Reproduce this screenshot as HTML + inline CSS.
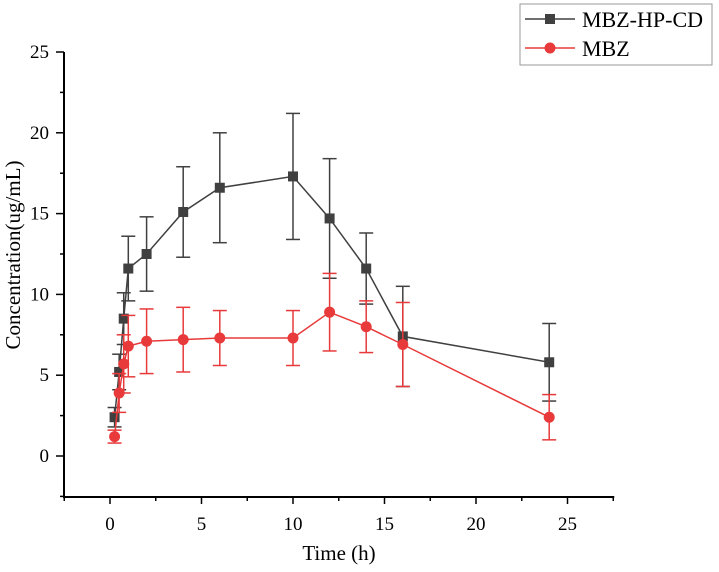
<!DOCTYPE html>
<html><head><meta charset="utf-8"><style>body{margin:0;background:#fff}svg{display:block;font-family:"Liberation Serif",serif}</style></head>
<body>
<svg id="c" width="719" height="572"></svg>
<script>
const times=[0.25,0.5,0.75,1,2,4,6,10,12,14,16,24];
const hpcdVals=[2.4,5.2,8.5,11.6,12.5,15.1,16.6,17.3,14.7,11.6,7.4,5.8];
const hpcdErr=[0.6,1.1,1.6,2.0,2.3,2.8,3.4,3.9,3.7,2.2,3.1,2.4];
const mbzVals=[1.2,3.9,5.7,6.8,7.1,7.2,7.3,7.3,8.9,8.0,6.9,2.4];
const mbzErr=[0.4,1.2,1.8,1.9,2.0,2.0,1.7,1.7,2.4,1.6,2.6,1.4];
const xTicks=[0,5,10,15,20,25];
const yTicks=[0,5,10,15,20,25];
const NS='http://www.w3.org/2000/svg',svg=document.getElementById('c');
const X=v=>110+v*18.3, Y=v=>456-v*16.16;
function mk(t,a,p){const e=document.createElementNS(NS,t);for(const k in a)e.setAttribute(k,a[k]);(p||svg).appendChild(e);return e;}
let ax=mk('g',{});
mk('line',{x1:64,y1:Y(25),x2:64,y2:497,stroke:'#000','stroke-width':2},ax);
mk('line',{x1:63,y1:497,x2:X(27.5)+1,y2:497,stroke:'#000','stroke-width':2},ax);
for(let v=-2.5;v<=27.6;v+=2.5){const x=X(v),maj=xTicks.includes(v);mk('line',{x1:x,y1:497,x2:x,y2:maj?504:501,stroke:'#000','stroke-width':1.5},ax);}
xTicks.forEach(v=>{let t=mk('text',{x:X(v),y:530,'text-anchor':'middle','font-size':19},ax);t.textContent=v;});
for(let v=-2.5;v<=25.1;v+=2.5){const y=Y(v),maj=yTicks.includes(v);mk('line',{x1:64,y1:y,x2:maj?56:60,y2:y,stroke:'#000','stroke-width':1.5},ax);}
yTicks.forEach(v=>{let t=mk('text',{x:49,y:Y(v)+6,'text-anchor':'end','font-size':19},ax);t.textContent=v;});
let xt=mk('text',{x:339,y:560,'text-anchor':'middle','font-size':21},ax);xt.textContent='Time (h)';
let yt=mk('text',{x:0,y:0,'text-anchor':'middle','font-size':21,transform:'translate(20,255) rotate(-90)'},ax);yt.textContent='Concentration(ug/mL)';
function series(vals,err,col,sq,name){const g=mk('g',{});
 mk('polyline',{points:times.map((t,i)=>X(t)+','+Y(vals[i])).join(' '),fill:'none',stroke:col,'stroke-width':1.5},g);
 times.forEach((t,i)=>{const x=X(t);mk('line',{x1:x,x2:x,y1:Y(vals[i]-err[i]),y2:Y(vals[i]+err[i]),stroke:col,'stroke-width':1.5},g);
 [vals[i]-err[i],vals[i]+err[i]].forEach(v=>mk('line',{x1:x-7,x2:x+7,y1:Y(v),y2:Y(v),stroke:col,'stroke-width':1.5},g));
 let m=sq?mk('rect',{x:x-5,y:Y(vals[i])-5,width:10,height:10,fill:col},g):mk('circle',{cx:x,cy:Y(vals[i]),r:5.5,fill:col},g);});}
series(hpcdVals,hpcdErr,'#404040',true,'series-mbz-hp-cd');
series(mbzVals,mbzErr,'#e83a3a',false,'series-mbz');
let lg=mk('g',{});
mk('rect',{x:520,y:4,width:192,height:61,fill:'#fff',stroke:'#999'},lg);
mk('line',{x1:525,x2:575,y1:19,y2:19,stroke:'#404040','stroke-width':1.5},lg);mk('rect',{x:545,y:14,width:10,height:10,fill:'#404040'},lg);
mk('line',{x1:525,x2:575,y1:48,y2:48,stroke:'#e83a3a','stroke-width':1.5},lg);mk('circle',{cx:550,cy:48,r:5.5,fill:'#e83a3a'},lg);
let l1=mk('text',{x:582,y:27,'font-size':22},lg);l1.textContent='MBZ-HP-CD';
let l2=mk('text',{x:582,y:56,'font-size':22},lg);l2.textContent='MBZ';
</script>
</body></html>
